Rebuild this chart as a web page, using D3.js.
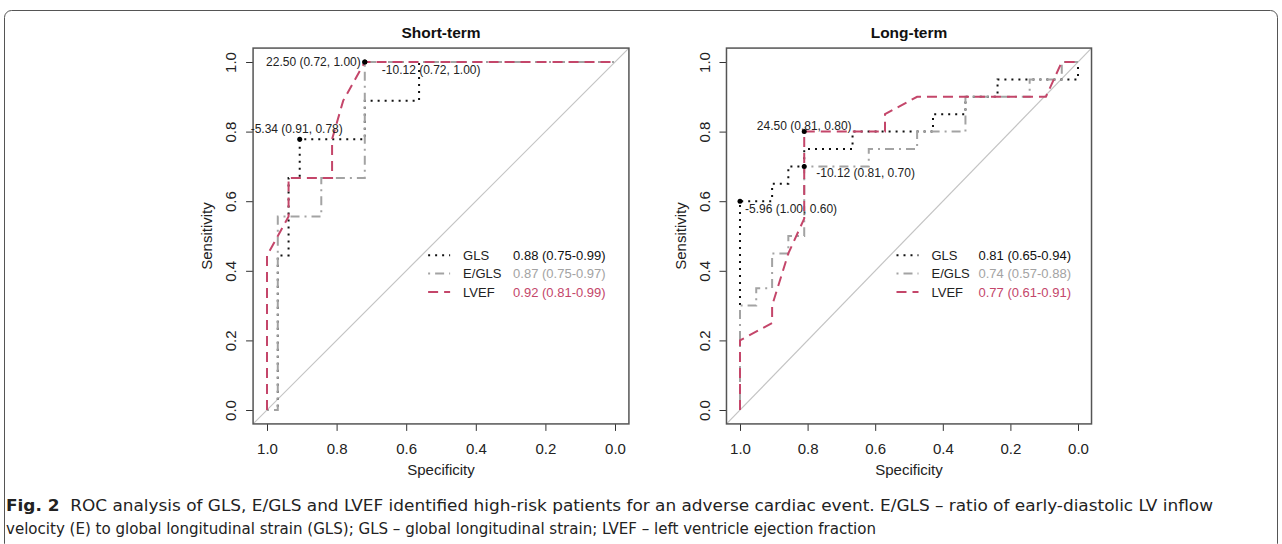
<!DOCTYPE html>
<html>
<head>
<meta charset="utf-8">
<script src="https://cdn.jsdelivr.net/npm/d3@7"></script>
<style>
  body { margin: 0; background: #fff; }
  text { font-family: "Liberation Sans", Arial, sans-serif; }
</style>
</head>
<body>
<div id="plot"></div>
<script>
// ---- data (specificity / sensitivity along each ROC curve) ----
var ticks = [0, 0.2, 0.4, 0.6, 0.8, 1.0];
var panelTitles = ["Short-term", "Long-term"];
var seriesNames = ["GLS", "E/GLS", "LVEF"];

var glsShortSpec  = [1, 0.969, 0.969, 0.938, 0.938, 0.906, 0.906, 0.719, 0.719, 0.563, 0.563, 0];
var glsShortSens  = [0, 0, 0.444, 0.444, 0.667, 0.667, 0.778, 0.778, 0.889, 0.889, 1, 1];
var eglsShortSpec = [1, 0.969, 0.969, 0.844, 0.844, 0.719, 0.719, 0];
var eglsShortSens = [0, 0, 0.556, 0.556, 0.667, 0.667, 1, 1];
var lvefShortSpec = [1, 1, 0.938, 0.938, 0.813, 0.813, 0.781, 0.719, 0];
var lvefShortSens = [0, 0.444, 0.556, 0.667, 0.667, 0.778, 0.889, 1, 1];

var glsLongSpec  = [1, 1, 0.905, 0.905, 0.857, 0.857, 0.810, 0.810, 0.667, 0.667, 0.429, 0.429, 0.333, 0.333, 0.238, 0.238, 0, 0];
var glsLongSens  = [0, 0.6, 0.6, 0.65, 0.65, 0.70, 0.70, 0.75, 0.75, 0.80, 0.80, 0.85, 0.85, 0.90, 0.90, 0.95, 0.95, 1];
var eglsLongSpec = [1, 1, 0.952, 0.952, 0.905, 0.905, 0.857, 0.857, 0.810, 0.810, 0.619, 0.619, 0.476, 0.476, 0.333, 0.333, 0.143, 0.143, 0.048, 0.048, 0];
var eglsLongSens = [0, 0.30, 0.30, 0.35, 0.35, 0.45, 0.45, 0.50, 0.50, 0.70, 0.70, 0.75, 0.75, 0.80, 0.80, 0.90, 0.90, 0.95, 0.95, 1, 1];
var lvefLongSpec = [1, 1, 0.905, 0.905, 0.857, 0.810, 0.810, 0.571, 0.571, 0.476, 0.095, 0.048, 0];
var lvefLongSens = [0, 0.20, 0.25, 0.30, 0.45, 0.55, 0.80, 0.80, 0.85, 0.90, 0.90, 1, 1];

// best thresholds: [specificity, sensitivity, label]
var thrShort = [[0.906, 0.778, "-5.34 (0.91, 0.78)"], [0.719, 1.0, "-10.12 (0.72, 1.00)"], [0.719, 1.0, "22.50 (0.72, 1.00)"]];
var thrLong  = [[1.0, 0.60, "-5.96 (1.00, 0.60)"], [0.810, 0.70, "-10.12 (0.81, 0.70)"], [0.810, 0.80, "24.50 (0.81, 0.80)"]];

var aucShort = ["0.88 (0.75-0.99)", "0.87 (0.75-0.97)", "0.92 (0.81-0.99)"];
var aucLong  = ["0.81 (0.65-0.94)", "0.74 (0.57-0.88)", "0.77 (0.61-0.91)"];

var captionBold = "Fig. 2";
var captionLine1 = "  ROC analysis of GLS, E/GLS and LVEF identified high-risk patients for an adverse cardiac event. E/GLS \u2013 ratio of early-diastolic LV inflow";
var captionLine2 = "velocity (E) to global longitudinal strain (GLS); GLS \u2013 global longitudinal strain; LVEF \u2013 left ventricle ejection fraction";

// ---- styles ----
var colors = ["#111111", "#a3a3a3", "#c4466a"];
var dashes = ["2,5", "2,5,9,5", "10,6"];
// label placement per threshold: [dx, dy, anchor]
var labelPos = [
    [[-3, -10, "middle"], [17, 8, "start"], [-4, 0, "end"]],
    [[5, 8, "start"], [12, 6, "start"], [0, -6, "middle"]]
];

var W = 1282, H = 544;

var svg = d3.select("#plot").append("svg")
    .attr("width", W)
    .attr("height", H);

// outer frame
svg.append("rect")
    .attr("x", 4.5).attr("y", 10.5)
    .attr("width", 1273).attr("height", 540)
    .attr("rx", 7)
    .attr("fill", "none")
    .attr("stroke", "#555")
    .attr("stroke-width", 1);

function zip(a, b) {
    return a.map(function (d, i) { return [d, b[i]]; });
}

var panels = [
    { title: panelTitles[0], x0: 267, x1: 615,
      curves: [zip(glsShortSpec, glsShortSens), zip(eglsShortSpec, eglsShortSens), zip(lvefShortSpec, lvefShortSens)],
      thr: thrShort, auc: aucShort, lab: labelPos[0], valOff: 85 },
    { title: panelTitles[1], x0: 740, x1: 1078,
      curves: [zip(glsLongSpec, glsLongSens), zip(eglsLongSpec, eglsLongSens), zip(lvefLongSpec, lvefLongSens)],
      thr: thrLong, auc: aucLong, lab: labelPos[1], valOff: 82 }
];

panels.forEach(function (p) {
    var xScale = d3.scaleLinear().domain([1, 0]).range([p.x0, p.x1]);
    var yScale = d3.scaleLinear().domain([0, 1]).range([410, 62]);

    var left = xScale(1.04), right = xScale(-0.04),
        top = yScale(1.04), bottom = yScale(-0.04);

    var g = svg.append("g");

    // diagonal reference
    g.append("line")
        .attr("x1", left).attr("y1", bottom)
        .attr("x2", right).attr("y2", top)
        .attr("stroke", "#c4c4c4")
        .attr("stroke-width", 1.2);

    var yAxis = d3.axisLeft(yScale).tickValues(ticks).tickSize(7).tickFormat(d3.format(".1f"));
    var xAxis = d3.axisBottom(xScale).tickValues(ticks).tickSize(7).tickPadding(12).tickFormat(d3.format(".1f"));

    var ya = g.append("g")
        .attr("transform", "translate(" + left + ",0)")
        .call(yAxis);
    ya.select(".domain").remove();
    ya.selectAll(".tick line").attr("stroke", "#333");
    ya.selectAll(".tick text")
        .attr("x", null).attr("dy", "0.35em")
        .attr("text-anchor", "middle")
        .attr("transform", "translate(-22,0) rotate(-90)")
        .attr("fill", "#222")
        .style("font-size", "15px");

    var xa = g.append("g")
        .attr("transform", "translate(0," + bottom + ")")
        .call(xAxis);
    xa.select(".domain").remove();
    xa.selectAll(".tick line").attr("stroke", "#333");
    xa.selectAll(".tick text")
        .attr("fill", "#222")
        .style("font-size", "15px");

    // box
    g.append("rect")
        .attr("x", left).attr("y", top)
        .attr("width", right - left).attr("height", bottom - top)
        .attr("fill", "none")
        .attr("stroke", "#555")
        .attr("stroke-width", 1.5);

    g.append("text")
        .attr("x", (left + right) / 2).attr("y", 38)
        .attr("text-anchor", "middle")
        .style("font-size", "15.5px").style("font-weight", "bold")
        .attr("fill", "#111")
        .text(p.title);

    g.append("text")
        .attr("x", (left + right) / 2).attr("y", 475)
        .attr("text-anchor", "middle")
        .style("font-size", "15px")
        .attr("fill", "#222")
        .text("Specificity");

    g.append("text")
        .attr("transform", "translate(" + (left - 46) + "," + ((top + bottom) / 2) + ") rotate(-90)")
        .attr("dy", "0.35em")
        .attr("text-anchor", "middle")
        .style("font-size", "15px")
        .attr("fill", "#222")
        .text("Sensitivity");

    var line = d3.line()
        .x(function (d) { return xScale(d[0]); })
        .y(function (d) { return yScale(d[1]); });

    p.curves.forEach(function (c, i) {
        g.append("path")
            .datum(c)
            .attr("d", line)
            .attr("fill", "none")
            .attr("stroke", colors[i])
            .attr("stroke-width", 2)
            .attr("stroke-dasharray", dashes[i]);
    });

    p.thr.forEach(function (t, i) {
        var px = xScale(t[0]), py = yScale(t[1]);
        g.append("circle")
            .attr("cx", px).attr("cy", py).attr("r", 2.5)
            .attr("fill", "#000");
        g.append("text")
            .attr("x", px + p.lab[i][0]).attr("y", py + p.lab[i][1])
            .attr("dy", "0.35em")
            .attr("text-anchor", p.lab[i][2])
            .style("font-size", "12px")
            .attr("fill", "#222")
            .text(t[2]);
    });

    // legend
    var lx = xScale(0.537);
    seriesNames.forEach(function (name, i) {
        var ly = yScale(0.445 - i * 0.053);
        g.append("line")
            .attr("x1", lx).attr("x2", lx + 22)
            .attr("y1", ly).attr("y2", ly)
            .attr("stroke", colors[i])
            .attr("stroke-width", 2)
            .attr("stroke-dasharray", dashes[i]);
        g.append("text")
            .attr("x", lx + 35).attr("y", ly).attr("dy", "0.35em")
            .style("font-size", "13px")
            .attr("fill", "#222")
            .text(name);
        g.append("text")
            .attr("x", lx + p.valOff).attr("y", ly).attr("dy", "0.35em")
            .style("font-size", "13px")
            .attr("fill", i === 0 ? "#111" : colors[i])
            .text(p.auc[i]);
    });
});

// caption
var cap1 = svg.append("text")
    .attr("x", 6).attr("y", 511)
    .attr("textLength", 1207)
    .attr("lengthAdjust", "spacingAndGlyphs")
    .style("font-family", "'Liberation Sans Narrow', 'DejaVu Sans Condensed', sans-serif")
    .style("font-size", "16px")
    .attr("fill", "#222");
cap1.append("tspan").style("font-weight", "bold").text(captionBold);
cap1.append("tspan").attr("xml:space", "preserve").text(captionLine1);

svg.append("text")
    .attr("x", 6).attr("y", 534)
    .attr("textLength", 870)
    .attr("lengthAdjust", "spacingAndGlyphs")
    .style("font-family", "'Liberation Sans Narrow', 'DejaVu Sans Condensed', sans-serif")
    .style("font-size", "16px")
    .attr("fill", "#222")
    .text(captionLine2);
</script>
</body>
</html>
